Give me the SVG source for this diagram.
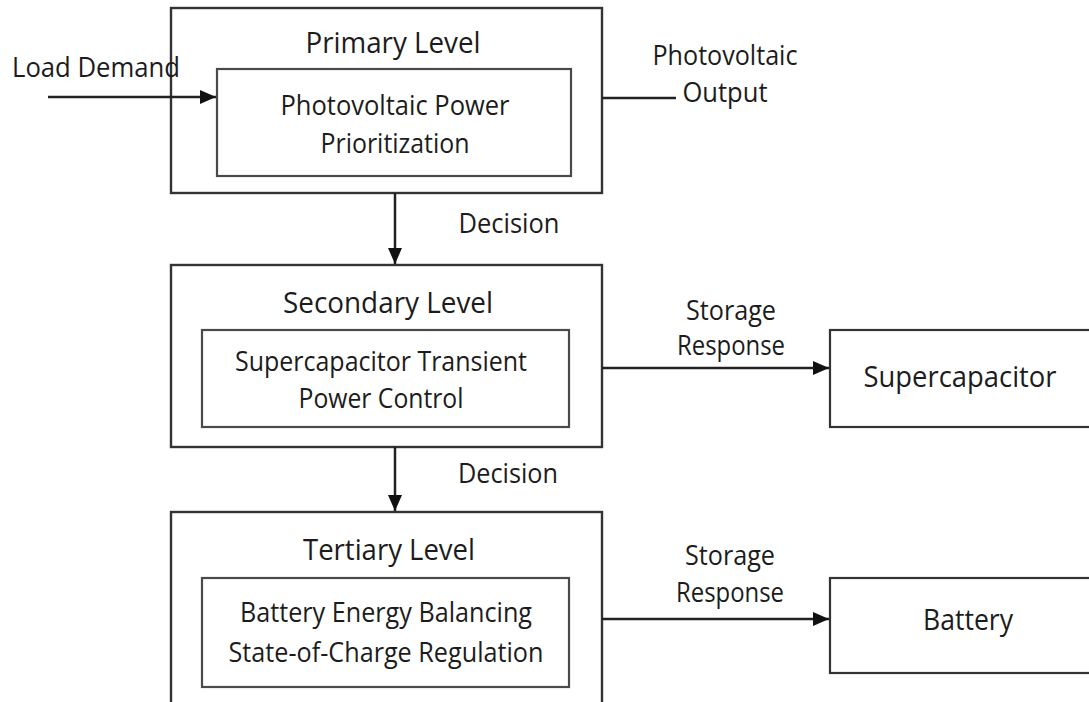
<svg xmlns="http://www.w3.org/2000/svg" width="1089" height="702" viewBox="0 0 1089 702">
<style>
.outer{fill:#fff;stroke:#333;stroke-width:2.4}
.inner{fill:#fff;stroke:#4a4a4a;stroke-width:2.2}
.box{fill:#fff;stroke:#333;stroke-width:2.2}
text{font-family:"Open Sans","Noto Sans",sans-serif;fill:#1c1c1c;text-anchor:middle}
.title{font-size:30px}
.body{font-size:27.5px}
.lbl{font-size:28px}
.big{font-size:30px}
.wire{stroke:#222;stroke-width:2.5;fill:none}
</style>
<defs>
<marker id="ah" viewBox="0 0 16 14" refX="16" refY="7" markerWidth="16" markerHeight="14" markerUnits="userSpaceOnUse" orient="auto">
<path d="M0,0 L16,7 L0,14 Z" fill="#111"/>
</marker>
</defs>
<rect width="1089" height="702" fill="#fff"/>
<g id="primary">
<rect class="outer" x="171" y="8" width="431" height="185"/>
<text class="title" x="393" y="53" textLength="175" lengthAdjust="spacingAndGlyphs">Primary Level</text>
<g id="pv-prioritization">
<rect class="inner" x="217" y="69" width="354" height="107"/>
<text class="body" x="395" y="115" textLength="229" lengthAdjust="spacingAndGlyphs">Photovoltaic Power</text>
<text class="body" x="395" y="153" textLength="149" lengthAdjust="spacingAndGlyphs">Prioritization</text>
</g>
</g>
<g id="secondary">
<rect class="outer" x="171" y="265" width="431" height="182"/>
<text class="title" x="388" y="313" textLength="210" lengthAdjust="spacingAndGlyphs">Secondary Level</text>
<g id="sc-control">
<rect class="inner" x="202" y="330" width="367" height="97"/>
<text class="body" x="381" y="371" textLength="292" lengthAdjust="spacingAndGlyphs">Supercapacitor Transient</text>
<text class="body" x="381" y="408" textLength="165" lengthAdjust="spacingAndGlyphs">Power Control</text>
</g>
</g>
<g id="tertiary">
<rect class="outer" x="171" y="512" width="431" height="194"/>
<text class="title" x="389" y="560" textLength="172" lengthAdjust="spacingAndGlyphs">Tertiary Level</text>
<g id="battery-balancing">
<rect class="inner" x="202" y="578" width="367" height="109"/>
<text class="body" x="386" y="622" textLength="292" lengthAdjust="spacingAndGlyphs">Battery Energy Balancing</text>
<text class="body" x="386" y="662" textLength="315" lengthAdjust="spacingAndGlyphs">State-of-Charge Regulation</text>
</g>
</g>
<g id="supercapacitor">
<rect class="box" x="830" y="330" width="265" height="97"/>
<text class="big" x="960" y="387" textLength="193" lengthAdjust="spacingAndGlyphs">Supercapacitor</text>
</g>
<g id="battery">
<rect class="box" x="830" y="578" width="265" height="95"/>
<text class="big" x="968" y="630" textLength="90" lengthAdjust="spacingAndGlyphs">Battery</text>
</g>
<g id="connectors">
<line class="wire" x1="48" y1="97" x2="216" y2="97" marker-end="url(#ah)"/>
<line class="wire" x1="602" y1="98" x2="676" y2="98"/>
<line class="wire" x1="395" y1="193" x2="395" y2="264" marker-end="url(#ah)"/>
<line class="wire" x1="395" y1="447" x2="395" y2="511" marker-end="url(#ah)"/>
<line class="wire" x1="602" y1="368" x2="829" y2="368" marker-end="url(#ah)"/>
<line class="wire" x1="602" y1="619" x2="829" y2="619" marker-end="url(#ah)"/>
<text class="lbl" x="96" y="77" textLength="168" lengthAdjust="spacingAndGlyphs">Load Demand</text>
<text class="lbl" x="725" y="65" textLength="145" lengthAdjust="spacingAndGlyphs">Photovoltaic</text>
<text class="lbl" x="725" y="102" textLength="85" lengthAdjust="spacingAndGlyphs">Output</text>
<text class="lbl" x="509" y="233" textLength="101" lengthAdjust="spacingAndGlyphs">Decision</text>
<text class="lbl" x="508" y="483" textLength="100" lengthAdjust="spacingAndGlyphs">Decision</text>
<text class="lbl" x="731" y="320" textLength="90" lengthAdjust="spacingAndGlyphs">Storage</text>
<text class="lbl" x="731" y="355" textLength="108" lengthAdjust="spacingAndGlyphs">Response</text>
<text class="lbl" x="730" y="565" textLength="90" lengthAdjust="spacingAndGlyphs">Storage</text>
<text class="lbl" x="730" y="602" textLength="108" lengthAdjust="spacingAndGlyphs">Response</text>
</g>
</svg>
